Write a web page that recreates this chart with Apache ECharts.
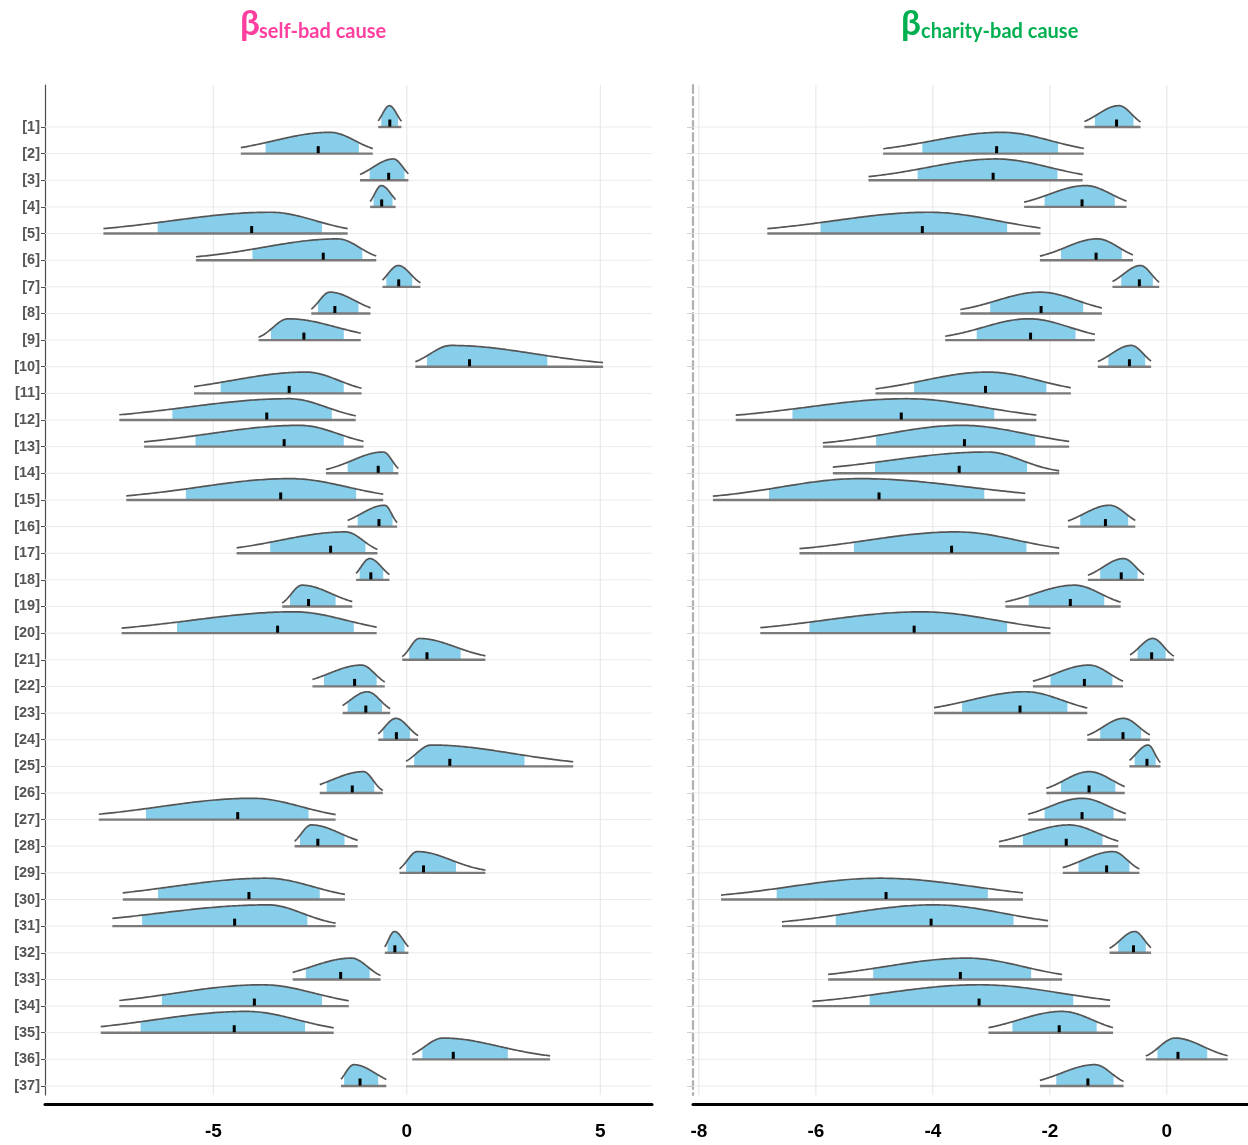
<!DOCTYPE html>
<html>
<head>
<meta charset="utf-8">
<script src="https://cdn.jsdelivr.net/npm/echarts@6/dist/echarts.min.js"></script>
<style>
html,body{margin:0;padding:0;background:#fff;}
#chart{width:1248px;height:1145px;}
</style>
</head>
<body>
<div id="chart"></div>
<script>
// ---- categories / tick labels ----
const rows = [1,2,3,4,5,6,7,8,9,10,11,12,13,14,15,16,17,18,19,20,21,22,23,24,25,26,27,28,29,30,31,32,33,34,35,36,37];
const leftTicks = [-5, 0, 5];
const rightTicks = [-8, -6, -4, -2, 0];
const leftTitle = 'self-bad cause';
const rightTitle = 'charity-bad cause';

// ---- beta self-bad cause : outer low, inner low, mode, median, inner high, outer high ----
const selfLo   = [-0.74,-4.29,-1.21,-0.95,-7.84,-5.45,-0.63,-2.47,-3.83,0.22,-5.50,-7.43,-6.79,-2.09,-7.25,-1.53,-4.40,-1.31,-3.22,-7.37,-0.12,-2.44,-1.66,-0.74,-0.02,-2.25,-7.96,-2.90,-0.19,-7.34,-7.61,-0.57,-2.95,-7.43,-7.91,0.14,-1.70];
const selfCiLo = [-0.66,-3.65,-0.96,-0.86,-6.44,-3.99,-0.53,-2.30,-3.51,0.52,-4.81,-6.06,-5.46,-1.53,-5.71,-1.27,-3.53,-1.22,-3.02,-5.94,0.06,-2.14,-1.53,-0.61,0.19,-2.07,-6.74,-2.76,-0.02,-6.43,-6.84,-0.50,-2.61,-6.33,-6.88,0.40,-1.62];
const selfMode = [-0.45,-1.99,-0.35,-0.66,-3.53,-1.78,-0.22,-1.99,-3.07,1.14,-2.61,-3.04,-2.76,-0.61,-3.02,-0.57,-1.58,-0.96,-2.71,-2.91,0.32,-1.17,-1.02,-0.28,0.63,-1.12,-3.99,-2.47,0.27,-3.63,-3.58,-0.32,-1.43,-3.73,-4.14,0.93,-1.37];
const selfMed  = [-0.44,-2.29,-0.47,-0.65,-4.01,-2.16,-0.21,-1.86,-2.66,1.62,-3.04,-3.62,-3.17,-0.74,-3.26,-0.72,-1.97,-0.93,-2.54,-3.34,0.52,-1.35,-1.06,-0.27,1.11,-1.41,-4.37,-2.30,0.43,-4.08,-4.45,-0.31,-1.71,-3.94,-4.46,1.20,-1.21];
const selfCiHi = [-0.23,-1.24,-0.06,-0.37,-2.19,-1.15,0.14,-1.25,-1.63,3.63,-1.63,-1.94,-1.63,-0.35,-1.31,-0.37,-1.07,-0.61,-1.84,-1.37,1.39,-0.78,-0.64,0.08,3.04,-0.84,-2.54,-1.61,1.27,-2.25,-2.57,-0.06,-0.96,-2.19,-2.63,2.61,-0.74];
const selfHi   = [-0.14,-0.88,0.04,-0.29,-1.53,-0.79,0.35,-0.94,-1.19,5.07,-1.17,-1.32,-1.12,-0.22,-0.61,-0.25,-0.76,-0.45,-1.41,-0.78,2.03,-0.57,-0.43,0.29,4.30,-0.62,-1.84,-1.27,2.03,-1.60,-1.84,0.04,-0.68,-1.50,-1.89,3.70,-0.53];

// ---- beta charity-bad cause ----
const charLo   = [-1.41,-4.85,-5.10,-2.44,-6.83,-2.17,-0.93,-3.53,-3.79,-1.18,-4.98,-7.37,-5.88,-5.71,-7.76,-1.69,-6.28,-1.35,-2.76,-6.95,-0.63,-2.29,-3.98,-1.36,-0.64,-2.06,-2.37,-2.87,-1.78,-7.62,-6.58,-0.98,-5.79,-6.06,-3.05,-0.36,-2.17];
const charCiLo = [-1.23,-4.18,-4.26,-2.09,-5.92,-1.81,-0.78,-3.02,-3.25,-1.00,-4.32,-6.40,-4.97,-4.99,-6.80,-1.48,-5.35,-1.14,-2.36,-6.11,-0.50,-1.99,-3.50,-1.14,-0.55,-1.81,-2.09,-2.46,-1.51,-6.67,-5.66,-0.83,-5.02,-5.08,-2.64,-0.16,-1.89];
const charMode = [-0.82,-2.82,-2.92,-1.39,-4.07,-1.19,-0.45,-2.17,-2.36,-0.61,-3.07,-4.45,-3.51,-3.07,-5.25,-0.98,-3.60,-0.74,-1.58,-4.19,-0.24,-1.33,-2.42,-0.74,-0.32,-1.33,-1.45,-1.67,-0.92,-4.90,-3.98,-0.55,-3.41,-3.20,-1.79,0.14,-1.23];
const charMed  = [-0.86,-2.91,-2.97,-1.45,-4.18,-1.21,-0.47,-2.15,-2.33,-0.64,-3.10,-4.54,-3.46,-3.55,-4.92,-1.05,-3.68,-0.78,-1.65,-4.32,-0.26,-1.41,-2.51,-0.75,-0.34,-1.33,-1.45,-1.72,-1.03,-4.80,-4.03,-0.57,-3.53,-3.21,-1.84,0.19,-1.35];
const charCiHi = [-0.57,-1.86,-1.87,-0.89,-2.73,-0.77,-0.24,-1.43,-1.56,-0.37,-2.06,-2.95,-2.25,-2.39,-3.12,-0.66,-2.40,-0.50,-1.07,-2.73,-0.02,-0.93,-1.70,-0.44,-0.19,-0.88,-0.91,-1.10,-0.64,-3.06,-2.62,-0.36,-2.32,-1.60,-1.20,0.69,-0.91];
const charHi   = [-0.45,-1.42,-1.44,-0.69,-2.16,-0.58,-0.13,-1.11,-1.23,-0.27,-1.64,-2.23,-1.67,-1.84,-2.42,-0.54,-1.84,-0.39,-0.79,-1.99,0.12,-0.75,-1.36,-0.29,-0.11,-0.72,-0.70,-0.83,-0.47,-2.46,-2.03,-0.27,-1.79,-0.97,-0.92,1.04,-0.74];

function buildData(lo, ciLo, mode, med, ciHi, hi) {
  return rows.map((r, i) => [r, lo[i], ciLo[i], mode[i], med[i], ciHi[i], hi[i]]);
}

const K = 1.15;     // ci half-width in sigmas
const H = 0.8;      // ridge height, in row units

function renderRidge(params, api) {
  const row = api.value(0), lo = api.value(1), ciLo = api.value(2), mode = api.value(3),
        med = api.value(4), ciHi = api.value(5), hi = api.value(6);
  const sL = Math.max((mode - ciLo) / K, 0.04);
  const sR = Math.max((ciHi - mode) / K, 0.04);
  const dens = x => { const z = x < mode ? (x - mode) / sL : (x - mode) / sR; return Math.exp(-0.5 * z * z); };
  const pt = x => api.coord([x, row - H * dens(x)]);
  const base = x => api.coord([x, row]);
  const N = 90;
  const curve = [];
  for (let i = 0; i <= N; i++) curve.push(pt(lo + (hi - lo) * i / N));
  const inner = [base(ciLo)];
  for (let i = 0; i <= N; i++) inner.push(pt(ciLo + (ciHi - ciLo) * i / N));
  inner.push(base(ciHi));
  const outer = [base(lo)].concat(curve, [base(hi)]);
  const b0 = base(lo), b1 = base(hi), m = api.coord([med, row]);
  return {
    type: 'group',
    children: [
      { type: 'polygon', shape: { points: outer }, style: { fill: '#ffffff' } },
      { type: 'polygon', shape: { points: inner }, style: { fill: '#87CEEB' } },
      { type: 'polyline', shape: { points: curve }, style: { stroke: '#555555', lineWidth: 1.7, fill: null } },
      { type: 'line', shape: { x1: b0[0], y1: b0[1], x2: b1[0], y2: b1[1] }, style: { stroke: '#7a7a7a', lineWidth: 2.4 } },
      { type: 'rect', shape: { x: m[0] - 1.5, y: m[1] - 7.5, width: 3, height: 7 }, style: { fill: '#000000' } }
    ]
  };
}

function gridData(ticks) {
  return rows.map(r => [0, r]).concat(ticks.map(v => [1, v]));
}
function renderGrid(params, api) {
  const cs = params.coordSys;
  const t = api.value(0), v = api.value(1);
  if (t === 0) {
    const y = api.coord([0, v])[1];
    return { type: 'line', shape: { x1: cs.x, y1: y, x2: cs.x + cs.width, y2: y }, style: { stroke: '#ebebeb', lineWidth: 1 } };
  }
  const x = api.coord([v, 1])[0];
  return { type: 'line', shape: { x1: x, y1: cs.y, x2: x, y2: cs.y + cs.height }, style: { stroke: '#e6e6e6', lineWidth: 1 } };
}

const yMin = -0.5766, yMax = 37.338;
function yAx(idx, dashed) {
  return {
    type: 'value', gridIndex: idx, inverse: true, min: yMin, max: yMax, position: 'left',
    splitLine: { show: false },
    axisLine: { show: true, onZero: false, lineStyle: dashed ? { color: '#b0b0b0', width: 2.2, type: [8, 4] } : { color: '#4d4d4d', width: 1.2 } },
    axisTick: { show: true, customValues: rows, length: dashed ? 6 : 4, lineStyle: { color: dashed ? '#d0d0d0' : '#4d4d4d' } },
    axisLabel: dashed ? { show: false } : {
      show: true, customValues: rows, formatter: v => '[' + v + ']',
      fontFamily: 'Liberation Sans', fontWeight: 'bold', fontSize: 14.5, color: '#555555', margin: 5
    }
  };
}
function xAx(idx, min, max, ticks) {
  return {
    type: 'value', gridIndex: idx, min: min, max: max, offset: 9, position: 'bottom',
    splitLine: { show: false },
    axisTick: { show: false },
    axisLine: { show: true, onZero: false, lineStyle: { color: '#000', width: 3 } },
    axisLabel: { show: true, customValues: ticks, fontFamily: 'Liberation Sans', fontWeight: 'bold', fontSize: 19, color: '#000', margin: 18 }
  };
}

const chart = echarts.init(document.getElementById('chart'), null, { renderer: 'canvas' });
chart.setOption({
  backgroundColor: '#ffffff',
  animation: false,
  grid: [
    { left: 45, top: 85, width: 607, height: 1010 },
    { left: 693, top: 85, width: 555, height: 1010 }
  ],
  xAxis: [ xAx(0, -9.35, 6.335, leftTicks), xAx(1, -8.1, 1.387, rightTicks) ],
  yAxis: [ yAx(0, false), yAx(1, true) ],
  graphic: [
    { type: 'text', x: 240, y: 6, style: { text: 'β', font: 'bold 35px Lato', fill: '#FF3F9F' } },
    { type: 'text', x: 259, y: 22, style: { text: leftTitle, font: 'bold 20px Lato', fill: '#FF3F9F' } },
    { type: 'text', x: 901, y: 6, style: { text: 'β', font: 'bold 35px Lato', fill: '#00B050' } },
    { type: 'text', x: 921, y: 22, style: { text: rightTitle, font: 'bold 20px Lato', fill: '#00B050' } }
  ],
  series: [
    { type: 'custom', xAxisIndex: 0, yAxisIndex: 0, z: 1, silent: true, renderItem: renderGrid, data: gridData(leftTicks), encode: { x: 1, y: 1 } },
    { type: 'custom', xAxisIndex: 1, yAxisIndex: 1, z: 1, silent: true, renderItem: renderGrid, data: gridData(rightTicks), encode: { x: 1, y: 1 } },
    { type: 'custom', xAxisIndex: 0, yAxisIndex: 0, z: 2, silent: true, renderItem: renderRidge,
      data: buildData(selfLo, selfCiLo, selfMode, selfMed, selfCiHi, selfHi), encode: { x: [1, 6], y: 0 } },
    { type: 'custom', xAxisIndex: 1, yAxisIndex: 1, z: 2, silent: true, renderItem: renderRidge,
      data: buildData(charLo, charCiLo, charMode, charMed, charCiHi, charHi), encode: { x: [1, 6], y: 0 } }
  ]
});
</script>
</body>
</html>
